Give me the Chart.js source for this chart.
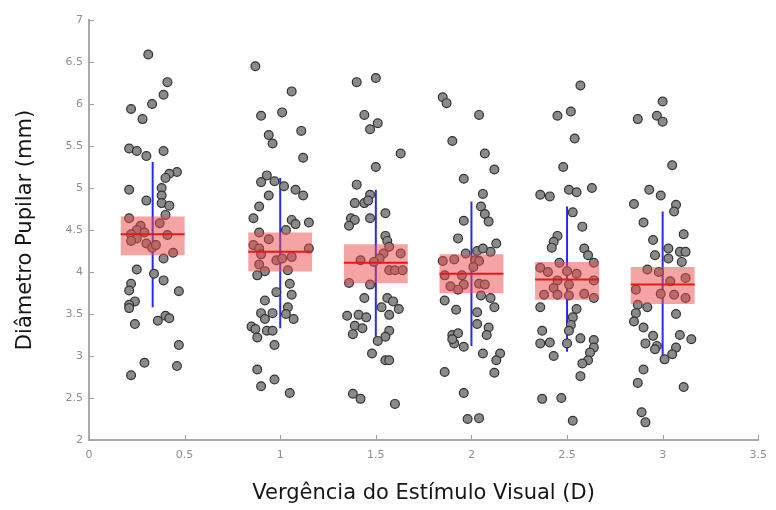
<!DOCTYPE html>
<html>
<head>
<meta charset="utf-8">
<script src="https://cdn.jsdelivr.net/npm/chart.js@4/dist/chart.umd.min.js"></script>
<style>
html,body{margin:0;padding:0;background:#fff;}
canvas{display:block;}
</style>
</head>
<body>
<canvas id="c" width="776" height="510"></canvas>
<script>
// ---- Data ----
const xTicks = [0, 0.5, 1, 1.5, 2, 2.5, 3, 3.5];
const yTicks = [2, 2.5, 3, 3.5, 4, 4.5, 5, 5.5, 6, 6.5, 7];
const xTitle = 'Vergência do Estímulo Visual (D)';
const yTitle = 'Diâmetro Pupilar (mm)';

const groupCenters = [0.333, 1, 1.5, 2, 2.5, 3];
const meanValues = [4.45, 4.24, 4.11, 3.98, 3.91, 3.85];
const semLow  = [4.20, 4.005, 3.87, 3.75, 3.67, 3.62];
const semHigh = [4.66, 4.47, 4.33, 4.21, 4.12, 4.06];
const sdLow   = [3.58, 3.33, 3.23, 3.12, 3.05, 2.93];
const sdHigh  = [5.31, 5.12, 4.98, 4.84, 4.78, 4.72];
const boxHalfWidth = 0.167;

const g1x = [0.31,0.41,0.39,0.33,0.22,0.28,0.21,0.25,0.30,0.39,0.46,0.42,0.40,0.21,0.38,0.38,0.30,0.38,0.42,0.40,0.21,0.37,0.27,0.25,0.22,0.29,0.41,0.25,0.22,0.30,0.33,0.35,0.44,0.39,0.25,0.34,0.39,0.22,0.21,0.47,0.24,0.21,0.21,0.36,0.40,0.42,0.24,0.47,0.29,0.46,0.22];
const g1y = [6.59,6.26,6.11,6.00,5.94,5.82,5.47,5.44,5.38,5.44,5.19,5.17,5.12,4.98,5.00,4.91,4.85,4.82,4.79,4.68,4.64,4.58,4.55,4.50,4.45,4.47,4.44,4.40,4.37,4.34,4.29,4.32,4.23,4.16,4.03,3.98,3.90,3.86,3.78,3.77,3.65,3.61,3.57,3.42,3.48,3.45,3.38,3.13,2.92,2.88,2.77];

const g2x = [0.87,1.06,1.01,0.90,1.11,0.94,0.96,1.12,0.93,0.90,0.97,1.02,1.08,1.12,0.94,0.89,0.86,1.06,1.08,1.15,1.03,0.89,0.94,0.86,0.89,1.15,0.90,0.98,1.01,1.06,0.89,0.92,0.88,1.04,1.05,0.98,1.06,0.92,1.04,0.90,0.96,0.92,1.03,1.07,0.85,0.87,0.93,0.96,0.88,0.97,0.88,0.97,0.90,1.05];
const g2y = [6.45,6.15,5.90,5.86,5.68,5.63,5.53,5.36,5.15,5.07,5.08,5.02,4.98,4.91,4.91,4.78,4.64,4.62,4.57,4.59,4.50,4.47,4.39,4.32,4.28,4.28,4.21,4.14,4.16,4.18,4.09,4.01,3.96,4.02,3.86,3.76,3.73,3.66,3.58,3.51,3.51,3.44,3.50,3.44,3.35,3.32,3.30,3.30,3.22,3.13,2.84,2.72,2.64,2.56];

const g3x = [1.40,1.50,1.44,1.51,1.47,1.63,1.50,1.40,1.47,1.39,1.44,1.46,1.55,1.37,1.39,1.36,1.47,1.55,1.56,1.57,1.63,1.54,1.52,1.42,1.49,1.57,1.60,1.64,1.36,1.47,1.44,1.56,1.59,1.53,1.62,1.35,1.41,1.45,1.57,1.39,1.43,1.38,1.57,1.55,1.51,1.48,1.55,1.57,1.38,1.42,1.60];
const g3y = [6.26,6.31,5.87,5.77,5.70,5.41,5.25,5.04,4.92,4.82,4.82,4.85,4.70,4.64,4.62,4.55,4.64,4.43,4.37,4.30,4.22,4.22,4.16,4.14,4.12,4.02,4.02,4.02,3.87,3.85,3.69,3.69,3.65,3.58,3.56,3.48,3.49,3.46,3.49,3.36,3.33,3.26,3.30,3.23,3.18,3.03,2.95,2.95,2.55,2.49,2.43];

const g4x = [1.85,1.87,2.04,1.90,2.07,2.12,1.96,2.06,2.05,2.07,2.09,1.96,1.93,2.13,2.10,1.97,2.03,2.06,1.85,1.91,2.02,2.04,2.01,1.86,1.95,1.89,1.96,2.04,2.07,1.93,2.05,2.10,2.12,1.86,1.92,2.03,2.03,2.09,2.08,1.90,1.93,1.91,1.96,1.90,2.06,2.15,2.13,2.12,1.86,1.96,1.98,2.04];
const g4y = [6.08,6.01,5.87,5.56,5.41,5.22,5.11,4.93,4.78,4.69,4.60,4.61,4.40,4.34,4.24,4.22,4.25,4.28,4.13,4.15,4.14,4.13,4.06,3.96,3.96,3.83,3.85,3.86,3.85,3.79,3.72,3.69,3.58,3.66,3.55,3.52,3.38,3.34,3.25,3.25,3.27,3.15,3.11,3.20,3.03,3.03,2.95,2.80,2.81,2.56,2.25,2.26];

const g5x = [2.57,2.45,2.52,2.54,2.48,2.36,2.41,2.51,2.55,2.63,2.53,2.58,2.45,2.43,2.42,2.59,2.61,2.64,2.46,2.36,2.40,2.50,2.55,2.45,2.64,2.43,2.51,2.38,2.45,2.51,2.59,2.64,2.36,2.55,2.53,2.52,2.37,2.51,2.57,2.64,2.36,2.41,2.50,2.64,2.43,2.62,2.61,2.58,2.57,2.37,2.47,2.53];
const g5y = [6.22,5.86,5.91,5.59,5.25,4.92,4.90,4.98,4.95,5.00,4.71,4.54,4.43,4.36,4.29,4.28,4.20,4.11,4.11,4.05,4.00,4.01,3.98,3.90,3.90,3.81,3.85,3.73,3.73,3.72,3.74,3.69,3.58,3.56,3.46,3.37,3.30,3.30,3.21,3.19,3.15,3.16,3.15,3.10,3.00,3.04,2.95,2.91,2.76,2.49,2.50,2.23];

const g6x = [3.00,2.87,2.97,3.00,3.05,2.93,2.99,2.85,3.07,3.06,2.90,3.11,2.95,3.03,2.96,3.03,3.09,3.12,3.10,2.92,2.98,3.04,3.12,2.86,2.99,3.06,3.12,2.87,2.92,2.86,3.07,2.85,2.90,2.95,3.09,3.15,2.91,2.97,2.96,3.07,3.05,3.01,2.90,2.87,3.11,2.89,2.91];
const g6y = [6.03,5.82,5.86,5.79,5.27,4.98,4.91,4.81,4.80,4.72,4.59,4.45,4.38,4.28,4.20,4.16,4.24,4.24,4.12,4.03,4.00,3.89,3.93,3.79,3.74,3.73,3.69,3.61,3.58,3.51,3.50,3.41,3.34,3.24,3.25,3.20,3.15,3.12,3.08,3.10,3.02,2.96,2.84,2.68,2.63,2.33,2.21];

const groupX = [g1x, g2x, g3x, g4x, g5x, g6x];
const groupY = [g1y, g2y, g3y, g4y, g5y, g6y];

// ---- Build datasets ----
const datasets = [];
groupCenters.forEach((c, i) => {
  datasets.push({
    type: 'scatter', showLine: true, order: 0,
    data: [{x: c - boxHalfWidth, y: meanValues[i]}, {x: c + boxHalfWidth, y: meanValues[i]}],
    borderColor: '#e21a1a', borderWidth: 2, pointRadius: 0, fill: false
  });
  const l = c - boxHalfWidth, r = c + boxHalfWidth;
  datasets.push({
    type: 'scatter', showLine: true, order: 1,
    data: [{x: l, y: semLow[i]}, {x: r, y: semLow[i]}, {x: r, y: semHigh[i]}, {x: l, y: semHigh[i]}, {x: l, y: semLow[i]}],
    borderWidth: 0, borderColor: 'rgba(0,0,0,0)', pointRadius: 0,
    backgroundColor: 'rgba(236,72,72,0.5)', fill: 'shape'
  });
  datasets.push({
    type: 'scatter', order: 3,
    data: groupX[i].map((x, k) => ({x: x, y: groupY[i][k]})),
    backgroundColor: '#8a8a8a', borderColor: '#333333', borderWidth: 1.2,
    pointRadius: 4.4, pointHoverRadius: 4.4
  });
  datasets.push({
    type: 'scatter', showLine: true, order: 4,
    data: [{x: c, y: sdLow[i]}, {x: c, y: sdHigh[i]}],
    borderColor: '#2b2bef', borderWidth: 2, pointRadius: 0, fill: false
  });
});

const tickMarks = {
  id: 'tickMarks',
  afterDraw(chart) {
    const {ctx, chartArea: a, scales: {x, y}} = chart;
    ctx.save();
    ctx.strokeStyle = '#a0a0a0';
    ctx.lineWidth = 1;
    x.ticks.forEach(t => {
      const px = Math.round(x.getPixelForValue(t.value)) + 0.5;
      ctx.beginPath(); ctx.moveTo(px, a.bottom); ctx.lineTo(px, a.bottom - 5); ctx.stroke();
    });
    y.ticks.forEach(t => {
      const py = Math.round(y.getPixelForValue(t.value)) + 0.5;
      ctx.beginPath(); ctx.moveTo(a.left, py); ctx.lineTo(a.left + 5, py); ctx.stroke();
    });
    ctx.restore();
  }
};

const fmt = v => String(v);

new Chart(document.getElementById('c'), {
  type: 'scatter',
  data: {datasets},
  plugins: [tickMarks],
  options: {
    responsive: false,
    devicePixelRatio: 1,
    animation: false,
    events: [],
    layout: {padding: {top: 20, right: 9, left: 0, bottom: 0}},
    plugins: {legend: {display: false}, tooltip: {enabled: false}},
    scales: {
      x: {
        type: 'linear', min: 0, max: 3.5,
        afterBuildTicks: s => { s.ticks = xTicks.map(v => ({value: v})); },
        afterFit: s => { s.height = 70; },
        grid: {display: false, drawTicks: false},
        border: {display: true, color: '#aaaaaa', width: 2},
        ticks: {color: '#8f8f8f', padding: 9, font: {family: 'DejaVu Sans', size: 11}, maxRotation: 0, callback: fmt},
        title: {display: true, text: xTitle, color: '#151515', font: {family: 'DejaVu Sans', size: 21}, padding: {top: 0, bottom: 4}}
      },
      y: {
        type: 'linear', min: 2, max: 7,
        afterBuildTicks: s => { s.ticks = yTicks.map(v => ({value: v})); },
        afterFit: s => { s.width = 89; },
        grid: {display: false, drawTicks: false},
        border: {display: true, color: '#aaaaaa', width: 2},
        ticks: {color: '#8f8f8f', padding: 6, font: {family: 'DejaVu Sans', size: 11}, callback: fmt},
        title: {display: true, text: yTitle, color: '#151515', font: {family: 'DejaVu Sans', size: 21}, padding: {top: 13, bottom: 0}}
      }
    }
  }
});
</script>
</body>
</html>
